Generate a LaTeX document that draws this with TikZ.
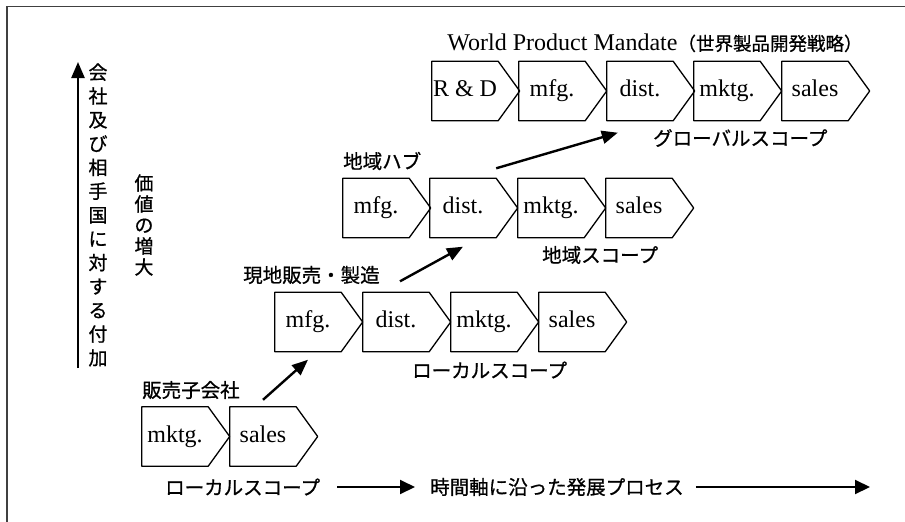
\documentclass[tikz,border=0pt]{standalone}
\usepackage{fontspec}
\setmainfont{Liberation Serif}
\newfontfamily\jp[FakeBold=0.8]{Noto Sans CJK JP}
\usetikzlibrary{arrows.meta}
\begin{document}
\begin{tikzpicture}[x=1pt,y=-1pt,
  boxline/.style={draw, line width=1.3pt, line join=round},
  chev/.style={minimum width=66pt, minimum height=59pt, inner sep=0pt,
    text height=16pt, text depth=5pt,
    font=\fontsize{24}{24}\selectfont,
    append after command={\pgfextra{\draw[boxline] (\tikzlastnode.north west) -- (\tikzlastnode.north east)
      -- ([xshift=21.5pt]\tikzlastnode.east) -- (\tikzlastnode.south east)
      -- (\tikzlastnode.south west) -- cycle;}}},
  jlab/.style={font=\jp\fontsize{19.5}{19.5}\selectfont, inner sep=0pt, anchor=west},
  vtext/.style={font=\jp\fontsize{19}{#1}\selectfont, inner sep=0pt, align=center},
  arr/.style={line width=2.4pt, -{Triangle[length=16pt,width=13pt]}},
  tarr/.style={line width=2pt, -{Triangle[length=15pt,width=14pt]}},
]
\useasboundingbox (0,0) rectangle (905,522);
% frame
\draw[line width=1.5pt, black!75] (7,522) -- (7,6.5) -- (905,6.5);

% row 1
\node[chev] (r1a) at (175,436.5) {mktg.};
\node[chev] (r1b) at (263,436.5) {sales};
% row 2
\node[chev] (r2a) at (308,322) {mfg.};
\node[chev] (r2b) at (396,322) {dist.};
\node[chev] (r2c) at (484,322) {mktg.};
\node[chev] (r2d) at (572,322) {sales};
% row 3
\node[chev] (r3a) at (376,208) {mfg.};
\node[chev] (r3b) at (463,208) {dist.};
\node[chev] (r3c) at (551,208) {mktg.};
\node[chev] (r3d) at (639,208) {sales};
% row 4
\node[chev] (r4a) at (465,91) {R \& D};
\node[chev] (r4b) at (552,91) {mfg.};
\node[chev] (r4c) at (640,91) {dist.};
\node[chev] (r4d) at (727,91) {mktg.};
\node[chev] (r4e) at (815,91) {sales};

% labels
\node[jlab] (l1) at (142,390) {販売子会社};
\node[jlab] (s1) at (165,487) {ローカルスコープ};
\node[jlab] (tm) at (430,487) {時間軸に沿った発展プロセス};
\node[jlab] (l2) at (243,275) {現地販売・製造};
\node[jlab] (s2) at (412,370) {ローカルスコープ};
\node[jlab] (l3) at (343,161) {地域ハブ};
\node[jlab] (s3) at (542,255) {地域スコープ};
\node[jlab] (s4) at (653,138) {グローバルスコープ};
\node[inner sep=0pt] (title) at (655,43)
  {{\fontsize{24}{24}\selectfont World Product Mandate}{\jp\fontsize{18.5}{18.5}\selectfont （世界製品開発戦略）}};

% vertical texts
\node[vtext=23.8pt] (vt1) at (98,215) {会\\社\\及\\び\\相\\手\\国\\に\\対\\す\\る\\付\\加};
\node[vtext=21pt] (vt2) at (144,225) {価\\値\\の\\増\\大};

% vertical axis arrow
\coordinate (vbot) at (78,368);
\coordinate (vtop) at (78,62);
\draw[arr] (vbot) -- (vtop);

% progression arrows
\draw[arr] ([yshift=7pt]r1b.north) -- ([yshift=-8pt]r2a.south);
\draw[arr] ([xshift=4pt,yshift=11pt]r2b.north) -- ([yshift=-9pt]r3b.south);
\draw[arr] ([yshift=10pt]r3b.north east) -- ([xshift=11pt,yshift=-12pt]r4c.south west);

% time axis arrows
\coordinate (tend) at (870,487);
\draw[tarr] ([xshift=17pt]s1.east) -- ([xshift=-15pt]tm.west);
\draw[tarr] ([xshift=12pt]tm.east) -- (tend);
\end{tikzpicture}
\end{document}
